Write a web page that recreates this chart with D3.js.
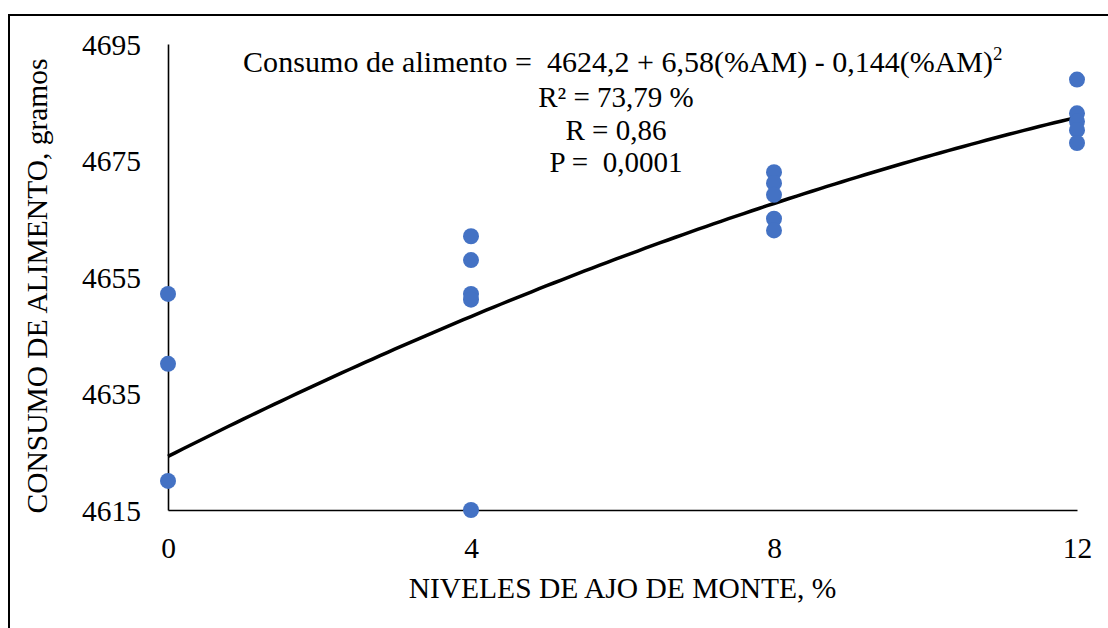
<!DOCTYPE html>
<html>
<head>
<meta charset="utf-8">
<script src="https://cdn.jsdelivr.net/npm/d3@7"></script>
<style>
  html, body { margin: 0; padding: 0; background: #fff; }
  svg text { font-family: "Liberation Serif", "Times New Roman", serif; fill: #000; }
</style>
</head>
<body>
<svg id="chart" width="1108" height="628"></svg>
<script>
// ---- Data ----
const xTicks = [0, 4, 8, 12];
const yTicks = [4615, 4635, 4655, 4675, 4695];
const pointsX = [0, 0, 0, 4, 4, 4, 4, 4, 8, 8, 8, 8, 8, 12, 12, 12, 12, 12];
const pointsY = [4652.1, 4640.1, 4620.0, 4662.0, 4657.9, 4652.1, 4651.1, 4615.0,
                 4673.0, 4671.1, 4669.1, 4665.0, 4663.0,
                 4688.9, 4683.1, 4681.7, 4680.2, 4678.0];
const coefs = [4624.2, 6.58, -0.144]; // fitted quadratic: a + b*x + c*x^2
const xTitle = "NIVELES DE AJO DE MONTE, %";
const yTitle = "CONSUMO DE ALIMENTO, gramos";
const eqLeft = "Consumo de alimento =";
const eqRight = "4624,2 + 6,58(%AM) - 0,144(%AM)";
const statLines = ["R² = 73,79 %", "R = 0,86", "P =  0,0001"];

// ---- Layout ----
const svg = d3.select("#chart");
const mLeft = 168, mRight = 1077, mTop = 44, mBottom = 510;
const x = d3.scaleLinear().domain([0, 12]).range([mLeft, mRight]);
const y = d3.scaleLinear().domain([4615, 4695]).range([mBottom, mTop]);

// outer border (only top & left visible)
svg.append("rect").attr("x", 9).attr("y", 15).attr("width", 1120).attr("height", 640)
  .attr("fill", "none").attr("stroke", "#000").attr("stroke-width", 2);

// axes
const xAxis = d3.axisBottom(x).tickValues(xTicks).tickSize(0).tickPadding(28).tickFormat(d3.format("d"));
const yAxis = d3.axisLeft(y).tickValues(yTicks).tickSize(0).tickPadding(27).tickFormat(d3.format("d"));

const gx = svg.append("g").attr("transform", `translate(0,${mBottom})`).call(xAxis);
const gy = svg.append("g").attr("transform", `translate(${mLeft},0)`).call(yAxis);
[gx, gy].forEach(g => {
  g.select(".domain").attr("stroke", "#000").attr("stroke-width", 1.6);
  g.selectAll("text").attr("font-family", "Liberation Serif").attr("font-size", 29.5).attr("fill", "#000");
});
gx.selectAll(".tick text").attr("dy", "0.68em");
gy.selectAll(".tick text").attr("dy", "0.34em");

// fitted curve
const curveX = d3.range(0, 12.0001, 0.1);
const line = d3.line().x(d => x(d)).y(d => y(coefs[0] + coefs[1] * d + coefs[2] * d * d));
svg.append("path").datum(curveX).attr("d", line)
  .attr("fill", "none").attr("stroke", "#000").attr("stroke-width", 3.5);

// points
svg.append("g").selectAll("circle").data(pointsX.map((d, i) => [d, pointsY[i]]))
  .join("circle")
  .attr("cx", d => x(d[0])).attr("cy", d => y(d[1])).attr("r", 8)
  .attr("fill", "#4472C4");

// axis titles
svg.append("text").attr("x", (mLeft + mRight) / 2).attr("y", 598)
  .attr("text-anchor", "middle").attr("font-size", 29.5).text(xTitle);
svg.append("text").attr("transform", `translate(47,${286}) rotate(-90)`)
  .attr("text-anchor", "middle").attr("font-size", 29.5).text(yTitle);

// equation annotation
svg.append("text").attr("x", 243).attr("y", 72).attr("font-size", 30)
  .attr("textLength", 289).attr("lengthAdjust", "spacing").text(eqLeft);
const eq = svg.append("text").attr("x", 547).attr("y", 72).attr("font-size", 30);
eq.append("tspan").text(eqRight);
eq.append("tspan").attr("font-size", 19).attr("dy", -12).text("2");

statLines.forEach((s, i) => {
  svg.append("text").attr("x", 616).attr("y", 107 + i * 32.5)
    .attr("text-anchor", "middle").attr("font-size", 29)
    .style("white-space", "pre").text(s);
});
</script>
</body>
</html>
